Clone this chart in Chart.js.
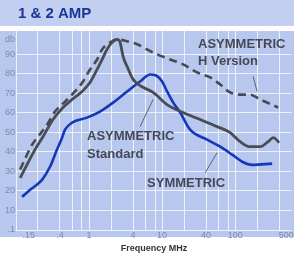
<!DOCTYPE html>
<html>
<head>
<meta charset="utf-8">
<script src="https://cdn.jsdelivr.net/npm/chart.js@4/dist/chart.umd.min.js"></script>
<style>
  html, body { margin: 0; padding: 0; background: #fff; }
  #wrap { width: 294px; height: 256px; }
</style>
</head>
<body>
<div id="wrap"><canvas id="ampChart" width="294" height="256"></canvas></div>
<script>
// frequency (MHz) / level (db)
const hVersionFreq = [0.114, 0.166, 0.20, 0.266, 0.342, 0.469, 0.643, 0.828, 1.03, 1.29, 1.51, 1.76, 2.07, 2.42, 3.32, 4.54, 6.23, 7.53, 12.9, 19.4, 30.1, 45.5, 62.4, 85.5, 117, 160, 220, 388];
const hVersionDb   = [31, 43.7, 47.8, 54, 60.7, 65.8, 71, 76.1, 82.3, 87.4, 92.6, 95.2, 96.7, 97.7, 96.7, 95.2, 92.6, 91, 87.4, 84.9, 80.8, 78.2, 74.6, 70.5, 69.4, 69.4, 66.9, 62.8];

const standardFreq = [0.114, 0.182, 0.234, 0.321, 0.44, 0.585, 0.802, 1.03, 1.29, 1.51, 1.76, 2.07, 2.42, 2.66, 2.92, 3.32, 4.01, 5.0, 7.53, 11.7, 19.4, 33.2, 56.6, 85.5, 117, 160, 220, 283, 332, 401];
const standardDb   = [26.7, 41.2, 47.8, 56.6, 62.8, 66.9, 71, 75.6, 82.3, 87.4, 92.6, 96.2, 97.7, 96.2, 89, 83.8, 77.2, 74, 70.5, 64.3, 60.2, 56.6, 53, 49.9, 45.3, 42.7, 42.7, 45.3, 47.3, 44.8];

const symmetricFreq = [0.121, 0.156, 0.227, 0.292, 0.364, 0.427, 0.469, 0.585, 0.939, 1.41, 2.13, 3.32, 5.0, 6.85, 8.28, 10, 11.7, 14.2, 17.7, 24.2, 41.3, 62.4, 91, 125, 171, 321];
const symmetricDb   = [17, 20.6, 25.7, 32.4, 41.2, 47.3, 51.4, 55, 57.6, 60.7, 65.3, 71, 76.1, 79.7, 79.2, 76.1, 71, 65.3, 60.2, 51.4, 46.3, 42.7, 38.6, 35, 33.4, 34];

const xLabelValues = [0.15, 0.4, 1, 4, 10, 40, 100, 500];
const xLabelTexts  = ['.15', '.4', '1', '4', '10', '40', '100', '500'];
const xGridValues  = [0.1, 0.2, 0.4, 0.6, 0.8, 1, 2, 4, 6, 8, 10, 20, 40, 60, 80, 100, 200, 400];
const yTickValues  = [0, 10, 20, 30, 40, 50, 60, 70, 80, 90];
const yTickTexts   = ['.1', '10', '20', '30', '40', '50', '60', '70', '80', '90'];

const FONT = "'Liberation Sans', Arial, sans-serif";

function points(xs, ys) {
    return xs.map((x, i) => ({ x: x, y: ys[i] }));
}

// backgrounds, title band, annotations
const decor = {
    id: 'decor',
    beforeDraw(chart) {
        const ctx = chart.ctx;
        ctx.save();
        ctx.fillStyle = '#c3cff0';
        ctx.fillRect(0, 0, chart.width, 26);
        ctx.fillStyle = '#b8c7ee';
        ctx.fillRect(0, 31, chart.width, 206);
        ctx.fillStyle = '#1c3696';
        ctx.font = 'bold 15px ' + FONT;
        ctx.textBaseline = 'middle';
        ctx.fillText('1 & 2 AMP', 18, 14);
        ctx.restore();
    },
    afterDatasetsDraw(chart) {
        const ctx = chart.ctx;
        const xs = chart.scales.x, ys = chart.scales.y;
        const px = v => xs.getPixelForValue(v);
        const py = v => ys.getPixelForValue(v);
        ctx.save();
        ctx.strokeStyle = '#5d6270';
        ctx.lineWidth = 1;
        [[176, 78.7, 200, 71], [5.0, 53, 7.53, 66.9], [38.8, 29.3, 56.6, 39.6]].forEach(l => {
            ctx.beginPath();
            ctx.moveTo(px(l[0]), py(l[1]));
            ctx.lineTo(px(l[2]), py(l[3]));
            ctx.stroke();
        });
        ctx.fillStyle = '#454956';
        ctx.font = 'bold 13px ' + FONT;
        ctx.textBaseline = 'middle';
        ctx.fillText('ASYMMETRIC', px(31), py(95.2));
        ctx.fillText('H Version', px(31), py(86.4));
        ctx.fillText('ASYMMETRIC', px(0.939), py(47.8));
        ctx.fillText('Standard', px(0.939), py(38.6));
        ctx.fillText('SYMMETRIC', px(6.23), py(23.7));
        ctx.restore();
    }
};

const ctx = document.getElementById('ampChart').getContext('2d');
const ampChart = new Chart(ctx, {
    type: 'line',
    data: {
        datasets: [{
            label: 'ASYMMETRIC H Version',
            data: points(hVersionFreq, hVersionDb),
            borderColor: '#474a52',
            borderWidth: 2.6,
            borderDash: [8, 5],
            pointRadius: 0,
            cubicInterpolationMode: 'monotone',
            fill: false
        }, {
            label: 'ASYMMETRIC Standard',
            data: points(standardFreq, standardDb),
            borderColor: '#4a4c53',
            borderWidth: 2.8,
            pointRadius: 0,
            cubicInterpolationMode: 'monotone',
            fill: false
        }, {
            label: 'SYMMETRIC',
            data: points(symmetricFreq, symmetricDb),
            borderColor: '#1638b8',
            borderWidth: 2.6,
            pointRadius: 0,
            cubicInterpolationMode: 'monotone',
            fill: false
        }]
    },
    options: {
        responsive: false,
        animation: false,
        layout: { padding: { top: 31, right: 2, left: 0, bottom: 0 } },
        plugins: {
            legend: { display: false },
            tooltip: { enabled: false }
        },
        scales: {
            x: {
                type: 'logarithmic',
                min: 0.1,
                max: 600,
                border: { display: false },
                grid: {
                    drawTicks: false,
                    lineWidth: 1,
                    color: c => (c.tick && xGridValues.includes(c.tick.value)) ? 'rgba(255,255,255,0.75)' : 'rgba(0,0,0,0)'
                },
                afterBuildTicks: scale => {
                    const vals = [...new Set(xGridValues.concat(xLabelValues))].sort((a, b) => a - b);
                    scale.ticks = vals.map(v => ({ value: v }));
                },
                afterFit: scale => { scale.height = 26; },
                ticks: {
                    autoSkip: false,
                    maxRotation: 0,
                    padding: 0,
                    color: '#7f8aa6',
                    font: { family: FONT, size: 9 },
                    callback: function(value) {
                        const i = xLabelValues.indexOf(value);
                        return i >= 0 ? xLabelTexts[i] : '';
                    }
                },
                title: {
                    display: true,
                    text: 'Frequency MHz',
                    color: '#333',
                    font: { family: FONT, size: 9, weight: 'bold' },
                    padding: { top: 3, bottom: 2 }
                }
            },
            y: {
                min: 0,
                max: 102,
                border: { display: false },
                grid: {
                    drawTicks: false,
                    lineWidth: 1,
                    color: c => (c.tick && c.tick.value <= 90) ? 'rgba(255,255,255,0.75)' : 'rgba(0,0,0,0)'
                },
                afterBuildTicks: scale => {
                    scale.ticks = yTickValues.concat([97.5]).map(v => ({ value: v }));
                },
                afterFit: scale => { scale.width = 16; },
                ticks: {
                    autoSkip: false,
                    padding: 1,
                    color: '#7f8aa6',
                    font: { family: FONT, size: 9 },
                    callback: function(value) {
                        const i = yTickValues.indexOf(value);
                        return i >= 0 ? yTickTexts[i] : 'db';
                    }
                }
            }
        }
    },
    plugins: [decor]
});
</script>
</body>
</html>
